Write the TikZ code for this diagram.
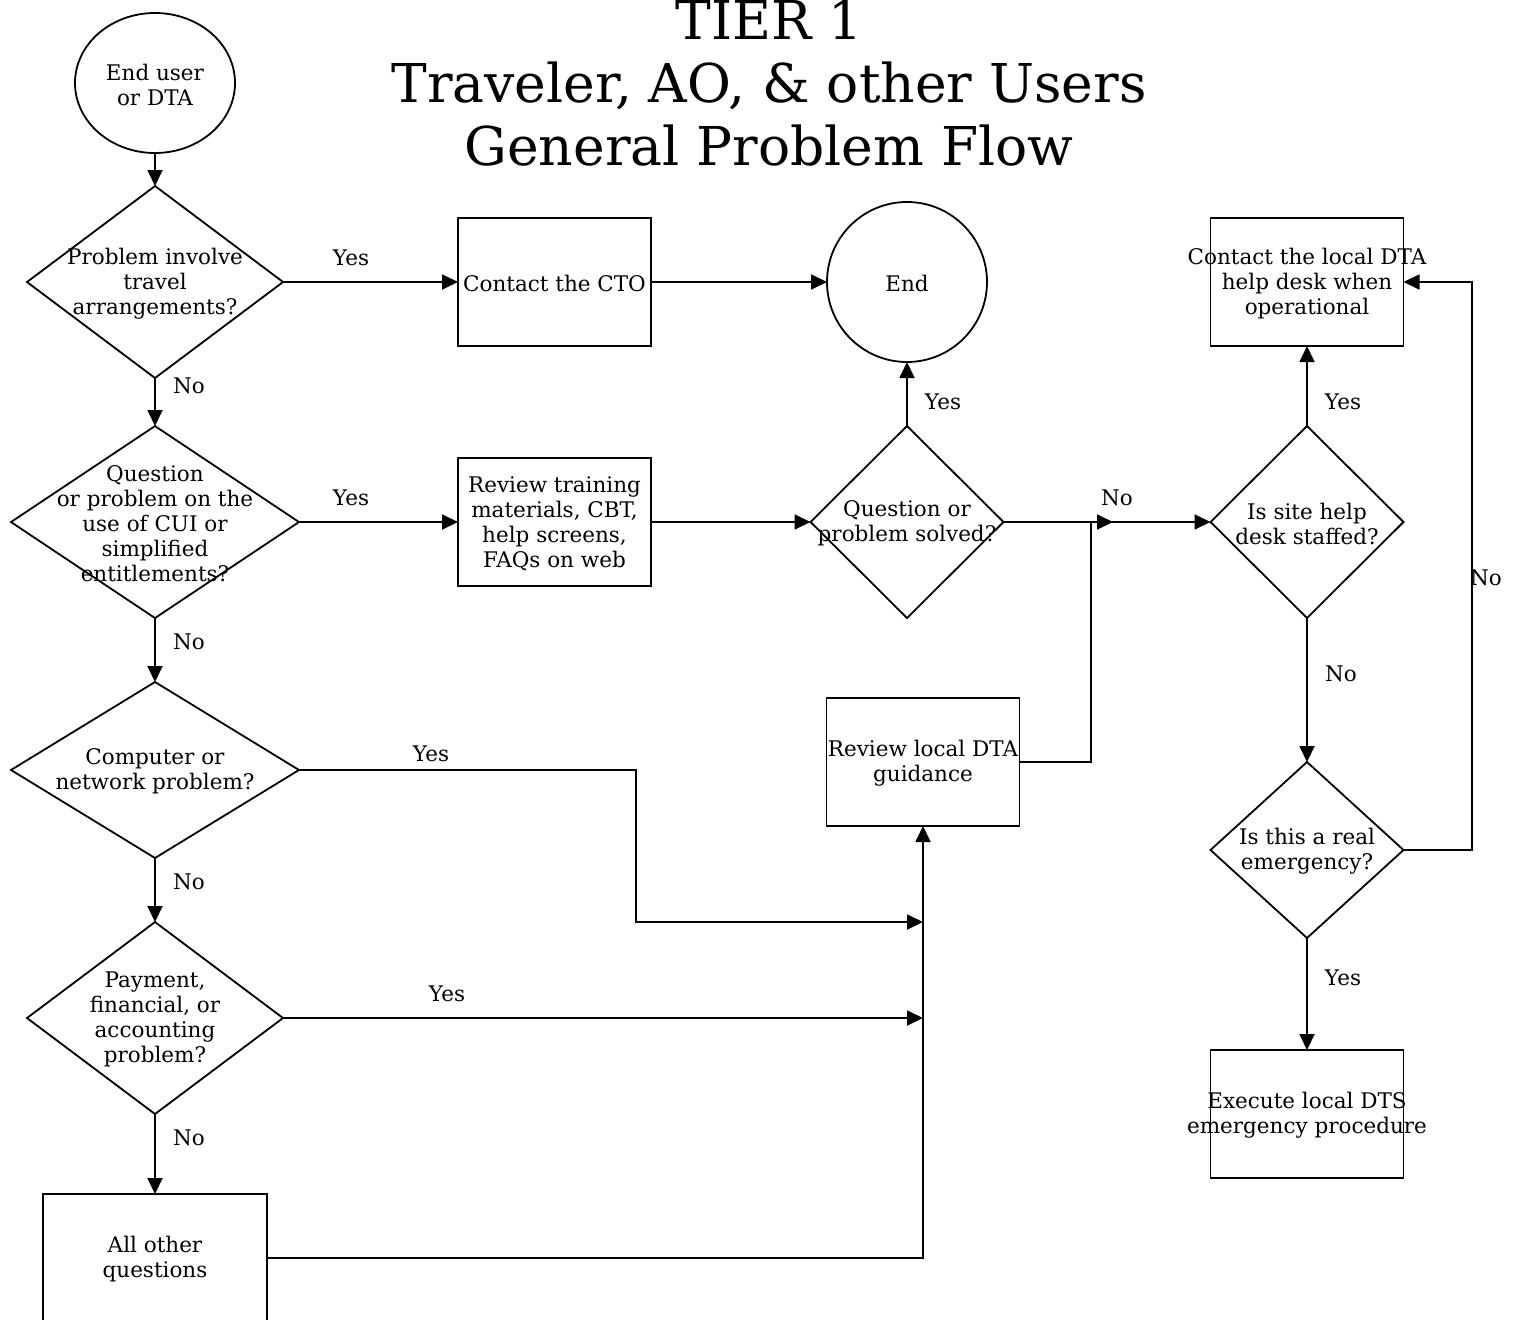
\documentclass[tikz,border=0pt]{standalone}
\usepackage{fontspec}
\setmainfont{DejaVu Serif}
\usetikzlibrary{shapes.geometric,arrows.meta}
\begin{document}
\begin{tikzpicture}[x=1pt,y=-1pt,
  every node/.style={inner sep=0pt,outer sep=0pt},
  txt/.style={font=\fontsize{21.5}{25}\selectfont,align=center,yshift=-1.5pt},
  lbl/.style={font=\fontsize{21.5}{25}\selectfont},
  shp/.style={draw,line width=1.8pt},
  boxn/.style={shp,rectangle,minimum width=193pt,minimum height=128pt},
  dia/.style={shp,diamond},
  conn/.style={line width=1.8pt},
  arr/.style={conn,-{Triangle[length=16pt,width=15pt]}}
]
\useasboundingbox (0,0) rectangle (1514,1319);
% title
\node[font=\fontsize{53.5}{63}\selectfont,align=center] (title) at (769,83) {TIER 1\\Traveler, AO, \& other Users\\General Problem Flow};
% nodes
\node[shp,ellipse,minimum width=160pt,minimum height=140pt] (start) at (155,83) {};
\node[txt] at (start.center) {End user\\ or DTA};
\node[dia,minimum width=256pt,minimum height=192pt] (d1) at (155,282) {};
\node[txt] at (d1.center) {Problem involve\\travel\\arrangements?};
\node[boxn] (cto) at (554.5,282) {};
\node[txt] at (cto.center) {Contact the CTO};
\node[shp,circle,minimum size=160pt] (end) at (907,282) {};
\node[txt] at (end.center) {End};
\node[dia,minimum width=288pt,minimum height=192pt] (d2) at (155,522) {};
\node[txt] at (d2.center) {Question\\or problem on the\\use of CUI or\\simplified\\entitlements?};
\node[boxn] (train) at (554.5,522) {};
\node[txt] at (train.center) {Review training\\materials, CBT,\\help screens,\\FAQs on web};
\node[dia,minimum width=193pt,minimum height=192pt] (d3) at (907,522) {};
\node[txt] at (d3.center) {Question or\\problem solved?};
\node[dia,minimum width=288pt,minimum height=176pt] (d4) at (155,770) {};
\node[txt] at (d4.center) {Computer or\\network problem?};
\node[dia,minimum width=256pt,minimum height=192pt] (d5) at (155,1018) {};
\node[txt] at (d5.center) {Payment,\\financial, or\\accounting\\problem?};
\node[shp,rectangle,minimum width=224pt,minimum height=128pt] (other) at (155,1258) {};
\node[txt] at (other.center) {All other\\questions};
\node[boxn] (review) at (923,762) {};
\node[txt] at (review.center) {Review local DTA\\guidance};
\node[dia,minimum width=193pt,minimum height=192pt] (d6) at (1307,522) {};
\node[txt] at (d6.center) {Is site help\\desk staffed?};
\node[boxn] (helpdesk) at (1307,282) {};
\node[txt] at (helpdesk.center) {Contact the local DTA\\help desk when\\operational};
\node[dia,minimum width=193pt,minimum height=176pt] (d7) at (1307,850) {};
\node[txt] at (d7.center) {Is this a real\\emergency?};
\node[boxn] (exec) at (1307,1114) {};
\node[txt] at (exec.center) {Execute local DTS\\emergency procedure};
% junction coordinates
\coordinate (j1) at (636,770);
\coordinate (j2) at (636,922);
\coordinate (m1) at (review.south |- j2);
\coordinate (m2) at (review.south |- d5.east);
\coordinate (j3) at (review.south |- other.east);
\coordinate (k1) at (1091,762);
\coordinate (k2) at (1091,522);
\coordinate (k3) at (1113,522);
\coordinate (n1) at (1472,850);
\coordinate (n2) at (1472,282);
% connectors
\draw[arr] (start) -- (d1.north);
\draw[arr] (d1.east) -- (cto.west);
\draw[arr] (cto.east) -- (end.west);
\draw[arr] (d1.south) -- (d2.north);
\draw[arr] (d2.east) -- (train.west);
\draw[arr] (train.east) -- (d3.west);
\draw[arr] (d3.north) -- (end.south);
\draw[arr] (d3.east) -- (d6.west);
\draw[arr] (review.east) -- (k1) -- (k2) -- (k3);
\draw[arr] (d2.south) -- (d4.north);
\draw[arr] (d4.east) -- (j1) -- (j2) -- (m1);
\draw[arr] (d4.south) -- (d5.north);
\draw[arr] (d5.east) -- (m2);
\draw[arr] (d5.south) -- (other.north);
\draw[arr] (other.east) -- (j3) -- (review.south);
\draw[arr] (d6.north) -- (helpdesk.south);
\draw[arr] (d6.south) -- (d7.north);
\draw[arr] (d7.east) -- (n1) -- (n2) -- (helpdesk.east);
\draw[arr] (d7.south) -- (exec.north);
% labels
\node[lbl] at (351,258) {Yes};
\node[lbl] at (189,386) {No};
\node[lbl] at (351,498) {Yes};
\node[lbl] at (189,642) {No};
\node[lbl] at (431,754) {Yes};
\node[lbl] at (189,882) {No};
\node[lbl] at (447,994) {Yes};
\node[lbl] at (189,1138) {No};
\node[lbl] at (943,402) {Yes};
\node[lbl] at (1117,498) {No};
\node[lbl] at (1343,402) {Yes};
\node[lbl] at (1341,674) {No};
\node[lbl] at (1486,578) {No};
\node[lbl] at (1343,978) {Yes};
\end{tikzpicture}
\end{document}
